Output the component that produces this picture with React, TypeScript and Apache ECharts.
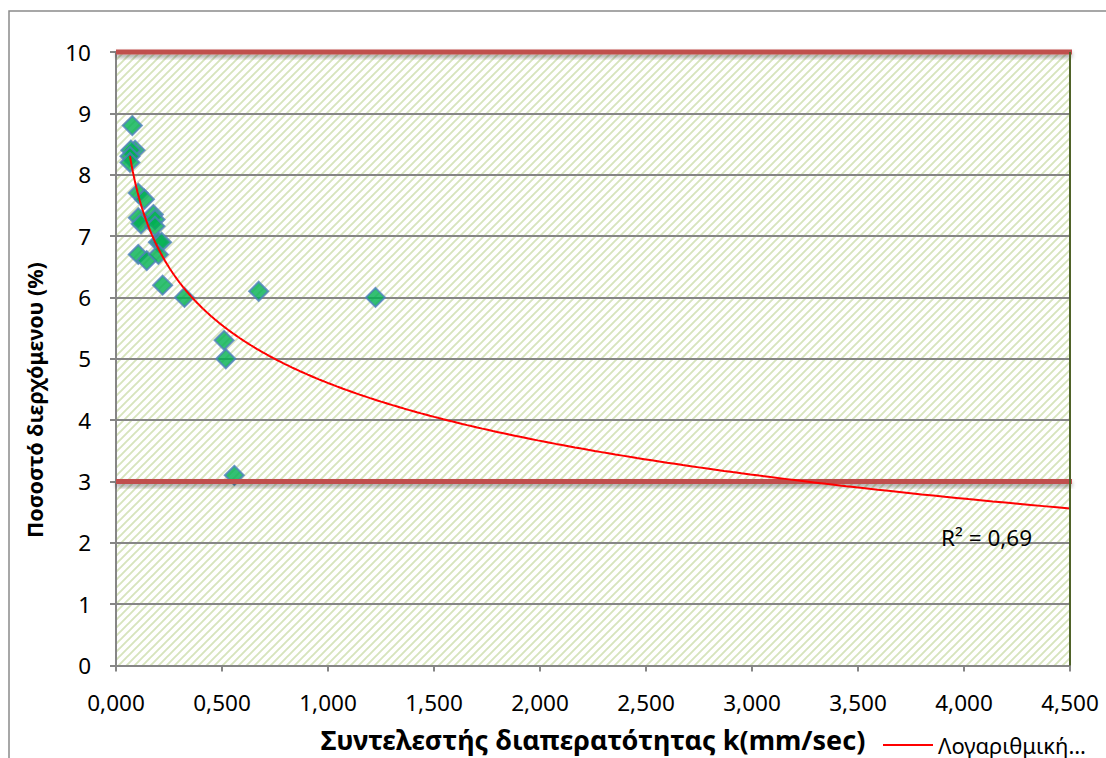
import React, { useEffect, useRef } from "react";
import * as echarts from "echarts";

// Scatter data: permeability coefficient k (mm/sec) vs passing percentage (%)
const kValues = [0.077, 0.09, 0.07, 0.066, 0.066, 0.105, 0.134, 0.105, 0.118, 0.176, 0.184, 0.184, 0.2, 0.215, 0.105, 0.145, 0.2, 0.22, 0.323, 0.673, 1.224, 0.51, 0.518, 0.558];
const percentValues = [8.8, 8.4, 8.4, 8.3, 8.2, 7.7, 7.6, 7.3, 7.2, 7.35, 7.27, 7.16, 6.9, 6.9, 6.7, 6.6, 6.7, 6.2, 6.0, 6.1, 6.0, 5.3, 5.0, 3.1];

// Limit lines
const limitValues = [10, 3];

// Logarithmic trendline y = a + b·ln(k), coefficients
const trendA = 4.605;
const trendB = -1.36;

// Axes
const xMin = 0;
const xMax = 4.5;
const xInterval = 0.5;
const yMin = 0;
const yMax = 10;
const yInterval = 1;

const xAxisTitle = "Συντελεστής διαπερατότητας k(mm/sec)";
const yAxisTitle = "Ποσοστό διερχόμενου (%)";
const trendLegend = "Λογαριθμική…";
const r2Label = "R² = 0,69";

const FONT = "'Noto Sans', 'Open Sans', sans-serif";

function makeHatch() {
  const c = document.createElement("canvas");
  c.width = 8;
  c.height = 8;
  const ctx = c.getContext("2d")!;
  ctx.fillStyle = "#ffffff";
  ctx.fillRect(0, 0, 8, 8);
  ctx.strokeStyle = "#d7e4bd";
  ctx.lineWidth = 1.9;
  ctx.beginPath();
  ctx.moveTo(-2, 10);
  ctx.lineTo(10, -2);
  ctx.moveTo(-6, 6);
  ctx.lineTo(6, -6);
  ctx.moveTo(2, 14);
  ctx.lineTo(14, 2);
  ctx.stroke();
  return c;
}

export default function App() {
  const ref = useRef<HTMLDivElement>(null);

  useEffect(() => {
    if (!ref.current) return;
    const chart = echarts.init(ref.current, undefined, { renderer: "svg" });

    const kStart = Math.min(...kValues);
    const trend: number[][] = [];
    const steps = 300;
    for (let i = 0; i <= steps; i++) {
      const x = kStart * Math.pow(xMax / kStart, i / steps);
      trend.push([x, trendA + trendB * Math.log(x)]);
    }

    const fmtX = (v: number) => v.toFixed(3).replace(".", ",");

    chart.setOption({
      animation: false,
      backgroundColor: "#ffffff",
      grid: {
        left: 116,
        top: 52,
        right: 36,
        bottom: 90,
        show: true,
        borderWidth: 0,
        backgroundColor: { image: makeHatch(), repeat: "repeat" },
      },
      xAxis: {
        type: "value",
        min: xMin,
        max: xMax,
        interval: xInterval,
        name: xAxisTitle,
        nameLocation: "middle",
        nameGap: 74,
        nameTextStyle: { fontFamily: FONT, fontSize: 27, fontWeight: "bold", color: "#000", verticalAlign: "middle" },
        axisLine: { show: true, lineStyle: { color: "#868686", width: 2 } },
        axisTick: { show: true, length: 6, lineStyle: { color: "#868686", width: 2 } },
        axisLabel: { formatter: fmtX, fontFamily: FONT, fontSize: 22.5, color: "#000", margin: 25 },
        splitLine: { show: false },
      },
      yAxis: {
        type: "value",
        min: yMin,
        max: yMax,
        interval: yInterval,
        axisLine: { show: true, lineStyle: { color: "#868686", width: 2 } },
        axisTick: { show: true, length: 6, lineStyle: { color: "#868686", width: 2 } },
        axisLabel: { fontFamily: FONT, fontSize: 22.5, color: "#000", margin: 25 },
        splitLine: { show: true, lineStyle: { color: "#868686", width: 2 } },
      },
      legend: {
        show: true,
        left: 878,
        top: 729,
        data: [{ name: trendLegend, icon: "rect" }],
        itemWidth: 50,
        itemHeight: 2,
        itemGap: 6,
        textStyle: { fontFamily: FONT, fontSize: 22, color: "#000" },
      },
      graphic: [
        {
          type: "rect",
          shape: { x: 9, y: 11, width: 1300, height: 900 },
          style: { fill: "none", stroke: "#8a8a8a", lineWidth: 1.5 },
          silent: true,
          z: -1,
        },
        {
          type: "text",
          x: 34,
          y: 400,
          rotation: Math.PI / 2,
          style: {
            text: yAxisTitle,
            fontFamily: FONT,
            fontSize: 21.5,
            fontWeight: "bold",
            fill: "#000",
            align: "center",
            verticalAlign: "middle",
          },
          z: 100,
        },
        {
          type: "text",
          x: 941,
          y: 537,
          style: {
            text: r2Label,
            fontFamily: FONT,
            fontSize: 22.5,
            fill: "#000",
            align: "left",
            verticalAlign: "middle",
          },
          z: 100,
        },
      ],
      series: [
        {
          name: "Δείγματα",
          type: "scatter",
          symbol: "diamond",
          symbolSize: 19,
          itemStyle: { color: "#00b050", borderColor: "#4f81bd", borderWidth: 2 },
          data: kValues.map((k, i) => [k, percentValues[i]]),
          z: 2,
        },
        {
          name: "Όρια",
          type: "custom",
          clip: false,
          silent: true,
          z: 3,
          data: limitValues.map((v) => [xMin, v]),
          renderItem: (params: any, api: any) => {
            const v = api.value(1);
            const p0 = api.coord([xMin, v]);
            const p1 = api.coord([xMax, v]);
            return {
              type: "rect",
              shape: { x: p0[0], y: p0[1] - 2.5, width: p1[0] - p0[0] + 2, height: 5 },
              style: {
                fill: "#c0504d",
                shadowColor: "rgba(0,0,0,0.35)",
                shadowBlur: 4,
                shadowOffsetY: 3,
              },
            };
          },
        },
        {
          name: trendLegend,
          type: "line",
          symbol: "none",
          showSymbol: false,
          data: trend,
          lineStyle: { color: "#ff0000", width: 2 },
          itemStyle: { color: "#ff0000" },
          z: 4,
          markLine: {
            silent: true,
            symbol: "none",
            label: { show: false },
            lineStyle: { color: "#4f6228", width: 2, type: "solid" },
            data: [{ xAxis: xMax }],
          },
        },
      ],
    });

    return () => chart.dispose();
  }, []);

  return (
    <div
      ref={ref}
      style={{ position: "fixed", left: 0, top: 0, width: 1106, height: 758, background: "#fff" }}
    />
  );
}
